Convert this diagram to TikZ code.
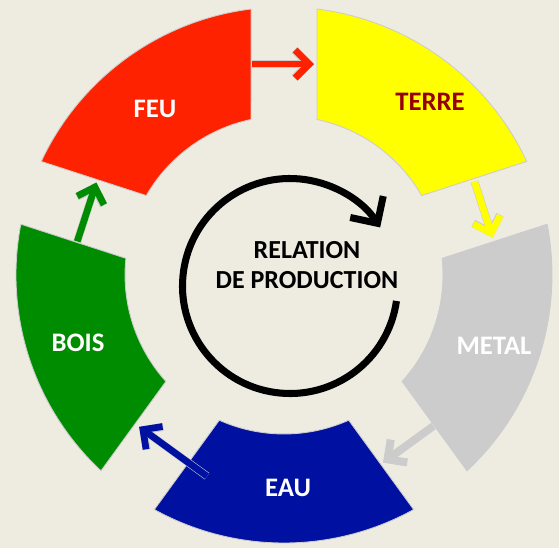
\documentclass[tikz,border=0pt]{standalone}
\usepackage{fontspec}
\setmainfont{Carlito}
\usetikzlibrary{calc,arrows.meta}
\definecolor{bgtan}{RGB}{238,236,225}
\definecolor{feured}{RGB}{255,34,0}
\definecolor{terreyel}{RGB}{255,255,0}
\definecolor{metalgray}{RGB}{204,204,204}
\definecolor{eaublue}{RGB}{0,16,160}
\definecolor{boisgreen}{RGB}{0,140,0}
\definecolor{terretxt}{RGB}{150,0,0}
\tikzset{
  sect/.style={fill=#1,draw=gray!40,line width=0.6pt},
  lbl/.style={font=\fontsize{19}{21}\selectfont\bfseries,text=white},
  link/.style={line width=4.8pt,draw=#1,-{Straight Barb[length=10pt,width=20pt]},
    preaction={draw=white!60!gray,line width=5.6pt,-{Straight Barb[length=10pt,width=20pt]}}},
}
\begin{document}
\begin{tikzpicture}[x=0.025cm,y=0.025cm]
  \useasboundingbox (-284,-273) rectangle (275,275);
  \fill[bgtan] (-284,-273) rectangle (275,275);
  % five elements
  \foreach \a/\c in {126/feured,54/terreyel,-18/metalgray,-90/eaublue,198/boisgreen}
    \draw[sect=\c] ({\a+28.93}:268) arc[start angle=\a+28.93,end angle=\a-28.93,radius=268]
      -- ({\a-24.02}:159) arc[start angle=\a-24.02,end angle=\a+24.02,radius=159] -- cycle;
  \node[lbl] (feu) at (-129,166) {FEU};
  \node[lbl,text=terretxt] (terre) at (146,173) {TERRE};
  \node[lbl] (metal) at (210,-71) {METAL};
  \node[lbl] (eau) at (4,-213) {EAU};
  \node[lbl] (bois) at (-206,-68) {BOIS};
  % arrow ends, across the gaps
  \coordinate (feu-o) at ($(90:211)+(180:32)$);
  \coordinate (terre-i) at ($(90:211)+(0:30)$);
  \coordinate (terre-o) at ($(18:210)+(108:30)$);
  \coordinate (metal-i) at ($(18:210)+(-72:29)$);
  \coordinate (metal-o) at ($(-54:210)+(36:32)$);
  \coordinate (eau-i) at ($(-54:210)+(-144:30)$);
  \coordinate (eau-o) at ($(-126:208)+(-36:56)$);
  \coordinate (bois-i) at ($(-126:208)+(144:28)$);
  \coordinate (bois-o) at ($(162:207)+(252:32)$);
  \coordinate (feu-i) at ($(162:207)+(72:30)$);
  \draw[link=feured] (feu-o) -- (terre-i);
  \draw[link=terreyel] (terre-o) -- (metal-i);
  \draw[link=metalgray] (metal-o) -- (eau-i);
  \draw[link=eaublue] (eau-o) -- (bois-i);
  \draw[link=boisgreen] (bois-o) -- (feu-i);
  % production cycle
  \coordinate (c0) at (6,-11);
  \draw[line width=5pt,-{Straight Barb[length=14pt,width=28pt]}] (c0) ++(352:107.5)
    arc[start angle=352,end angle=33,radius=107.5];
  \node[font=\fontsize{18.5}{21.3}\selectfont\bfseries,align=center] (rel) at (23,10)
    {RELATION\\DE PRODUCTION};
\end{tikzpicture}
\end{document}
